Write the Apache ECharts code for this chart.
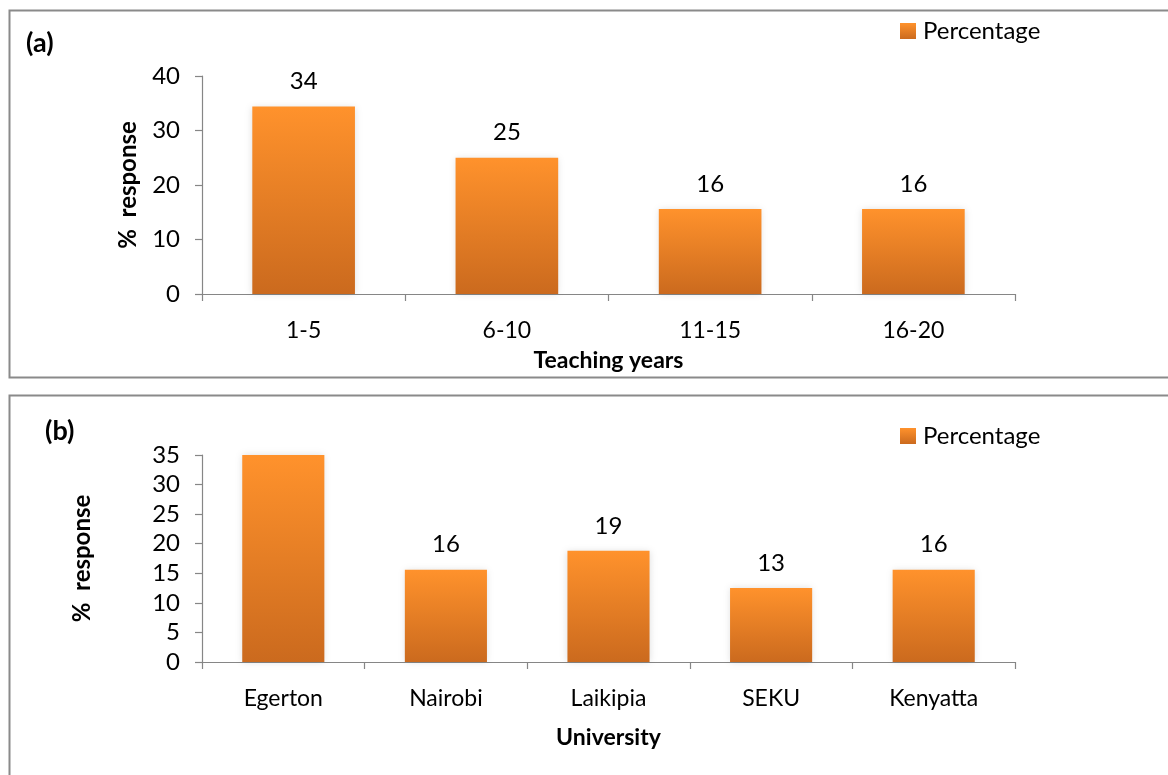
<!DOCTYPE html>
<html>
<head>
<meta charset="utf-8">
<script src="https://cdn.jsdelivr.net/npm/echarts@6/dist/echarts.min.js"></script>
<style>
html,body{margin:0;padding:0;background:#fff;}
#chart{width:1168px;height:775px;}
</style>
</head>
<body>
<div id="chart"></div>
<script>
// ---- data ----
const yearCategories = ['1-5', '6-10', '11-15', '16-20'];
const yearValues = [34.4, 25.0, 15.6, 15.6];
const uniCategories = ['Egerton', 'Nairobi', 'Laikipia', 'SEKU', 'Kenyatta'];
const uniValues = [37.5, 15.6, 18.8, 12.5, 15.6];
const seriesName = 'Percentage';
const yMaxA = 40, yStepA = 10;
const yMaxB = 35, yStepB = 5;

const FONT = 'Lato';
const AX = '#868686';
const barGrad = new echarts.graphic.LinearGradient(0, 0, 0, 1, [
  {offset: 0, color: '#FF922C'},
  {offset: 1, color: '#CB6A1E'}
]);

function xAxis(gridIndex, cats, name, gap) {
  return {
    type: 'category', gridIndex, data: cats,
    axisLine: {lineStyle: {color: AX, width: 1.2}},
    axisTick: {show: true, length: 7, lineStyle: {color: AX, width: 1.2}},
    axisLabel: {color: '#000', fontFamily: FONT, fontSize: 23, margin: 25},
    name, nameLocation: 'middle', nameGap: gap,
    nameTextStyle: {color: '#000', fontFamily: FONT, fontSize: 23, fontWeight: 'bold'}
  };
}
function yAxis(gridIndex, max, step, gap) {
  return {
    type: 'value', gridIndex, min: 0, max, interval: step,
    axisLine: {show: true, lineStyle: {color: AX, width: 1.2}},
    axisTick: {show: true, length: 7, lineStyle: {color: AX, width: 1.2}},
    splitLine: {show: false},
    axisLabel: {color: '#000', fontFamily: FONT, fontSize: 24, margin: 22},
    name: '%  response', nameLocation: 'middle', nameRotate: 90, nameGap: gap,
    nameTextStyle: {color: '#000', fontFamily: FONT, fontSize: 24, fontWeight: 'bold'}
  };
}
function barSeries(xi, yi, vals, max) {
  return {
    type: 'bar', name: seriesName, xAxisIndex: xi, yAxisIndex: yi,
    barWidth: '50.5%', clip: true,
    data: vals.map(v => ({value: v, label: {show: v <= max}})),
    itemStyle: {color: barGrad, shadowColor: 'rgba(0,0,0,0.13)', shadowBlur: 7},
    label: {
      show: true, position: 'top', distance: 13, color: '#000',
      fontFamily: FONT, fontSize: 24,
      formatter: p => Math.round(p.value)
    }
  };
}

const legendText = {color: '#000', fontFamily: FONT, fontSize: 24, padding: [0,0,0,2]};

const chart = echarts.init(document.getElementById('chart'), null, {renderer: 'canvas'});
chart.setOption({
  animation: false,
  backgroundColor: '#fff',
  textStyle: {fontFamily: FONT},
  grid: [
    {left: 202, top: 76, width: 813, height: 218},
    {left: 202, top: 455, width: 813, height: 207}
  ],
  legend: [
    {left: 900, top: 19, padding: 0, itemWidth: 16, itemHeight: 16, itemGap: 6, data: [seriesName],
     icon: 'rect', textStyle: legendText},
    {left: 900, top: 424, padding: 0, itemWidth: 16, itemHeight: 16, itemGap: 6, data: [seriesName],
     icon: 'rect', textStyle: legendText}
  ],
  xAxis: [
    xAxis(0, yearCategories, 'Teaching years', 55),
    xAxis(1, uniCategories, 'University', 64)
  ],
  yAxis: [
    yAxis(0, yMaxA, yStepA, 62),
    yAxis(1, yMaxB, yStepB, 108)
  ],
  series: [
    barSeries(0, 0, yearValues, yMaxA),
    barSeries(1, 1, uniValues, yMaxB)
  ],
  graphic: [
    {type: 'rect', shape: {x: 9.5, y: 10.5, width: 1200, height: 367},
     style: {fill: null, stroke: '#8a8a8a', lineWidth: 2}, silent: true},
    {type: 'rect', shape: {x: 9.5, y: 395.5, width: 1200, height: 420},
     style: {fill: null, stroke: '#8a8a8a', lineWidth: 2}, silent: true},
    {type: 'text', left: 26, top: 30,
     style: {text: '(a)', fill: '#000', font: 'bold 27px Lato'}},
    {type: 'text', left: 45, top: 418,
     style: {text: '(b)', fill: '#000', font: 'bold 27px Lato'}}
  ]
});
</script>
</body>
</html>
